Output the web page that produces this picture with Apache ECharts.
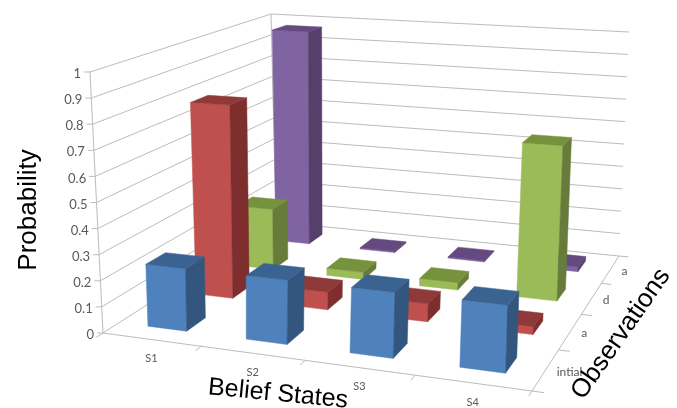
<!DOCTYPE html>
<html>
<head>
<meta charset="utf-8">
<style>html,body{margin:0;padding:0;background:#fff}#chart{width:677px;height:408px}</style>
<script src="https://cdn.jsdelivr.net/npm/echarts@6/dist/echarts.min.js"></script>
</head>
<body>
<div id="chart"></div>
<script>
// Belief-state probabilities per observation step
const beliefStates = ['S1', 'S2', 'S3', 'S4'];
const observations = ['intial', 'a', 'd', 'a'];
const probabilityTicks = [0, 0.1, 0.2, 0.3, 0.4, 0.5, 0.6, 0.7, 0.8, 0.9, 1];
const initialValues = [0.24, 0.24, 0.24, 0.24];
const firstAValues = [0.79, 0.07, 0.07, 0.03];
const dValues = [0.26, 0.03, 0.03, 0.63];
const secondAValues = [0.97, 0.005, 0.005, 0.02];

const BAR_WIDTH = 0.4, BAR_DEPTH = 0.39;
const SANS = '"Liberation Sans", Arial, sans-serif';
const SMALL = 'Lato, "Open Sans", sans-serif';

// Box corners on screen: floor and the plane at probability 1
const floorQuad = [[103, 333], [532, 391], [619, 256], [276, 222]];
const topQuad = [[90, 72], [541, 98], [629, 32], [271, 14]];

// Unit square to quadrilateral homography
function squareToQuad(q) {
  const [[x0, y0], [x1, y1], [x2, y2], [x3, y3]] = q;
  const dx1 = x1 - x2, dx2 = x3 - x2, sx = x0 - x1 + x2 - x3;
  const dy1 = y1 - y2, dy2 = y3 - y2, sy = y0 - y1 + y2 - y3;
  const den = dx1 * dy2 - dx2 * dy1;
  const g = (sx * dy2 - dx2 * sy) / den, h = (dx1 * sy - sx * dy1) / den;
  return [x1 - x0 + g * x1, x3 - x0 + h * x3, x0, y1 - y0 + g * y1, y3 - y0 + h * y3, y0, g, h];
}
const floorH = squareToQuad(floorQuad), topH = squareToQuad(topQuad);
function applyH(m, u, v) {
  const w = m[6] * u + m[7] * v + 1;
  return [(m[0] * u + m[1] * v + m[2]) / w, (m[3] * u + m[4] * v + m[5]) / w];
}

// state and prob go through the hidden value axes, depth is a row position
function makeProjector(params, api) {
  const cs = params.coordSys;
  return function (state, prob, depth) {
    const p = api.coord([state, prob]);
    const u = (p[0] - cs.x) / cs.width;
    const t = 1 - (p[1] - cs.y) / cs.height;
    const a = applyH(floorH, u, depth / observations.length);
    const b = applyH(topH, u, depth / observations.length);
    return [a[0] + (b[0] - a[0]) * t, a[1] + (b[1] - a[1]) * t];
  };
}

function line(a, b) {
  return { type: 'line', shape: { x1: a[0], y1: a[1], x2: b[0], y2: b[1] }, style: { stroke: '#bcbcbc', lineWidth: 1 }, silent: true };
}
function label(text, x, y, align, size, color, font, rotation) {
  return { type: 'text', x, y, rotation: rotation || 0, silent: true,
    style: { text, fill: color, font: size + 'px ' + font, align, verticalAlign: 'middle' } };
}

// One square column: front, right side, top
function renderBar(colors, depth) {
  return function (params, api) {
    const P = makeProjector(params, api);
    const xi = api.value(0), value = api.value(1);
    const pad = (1 - BAR_WIDTH) / 2, padZ = (1 - BAR_DEPTH) / 2;
    const x0 = xi + pad, x1 = xi + 1 - pad, z0 = depth + padZ, z1 = depth + 1 - padZ;
    const face = (pts, fill) => ({ type: 'polygon', shape: { points: pts }, style: { fill, stroke: fill, lineWidth: 0.5 }, silent: true });
    return { type: 'group', children: [
      face([P(x0, 0, z0), P(x1, 0, z0), P(x1, value, z0), P(x0, value, z0)], colors[0]),
      face([P(x1, 0, z0), P(x1, 0, z1), P(x1, value, z1), P(x1, value, z0)], colors[1]),
      face([P(x0, value, z0), P(x1, value, z0), P(x1, value, z1), P(x0, value, z1)], colors[2])
    ] };
  };
}

// Walls, floor edges, ticks and their labels
function renderFrame(params, api) {
  const P = makeProjector(params, api);
  const nS = beliefStates.length, nO = observations.length;
  const kids = [];
  probabilityTicks.forEach(t => {
    const a = P(0, t, 0), b = P(0, t, nO), c = P(nS, t, nO);
    kids.push(line(a, b), line(b, c), line(a, [a[0] - 6, a[1]]));
    kids.push(label(String(t), a[0] - 9, a[1] + 2, 'right', 13, '#595959', SMALL));
  });
  kids.push(line(P(0, 0, 0), P(0, 1, 0)), line(P(0, 0, nO), P(0, 1, nO)));
  kids.push(line(P(0, 0, 0), P(nS, 0, 0)), line(P(nS, 0, 0), P(nS, 0, nO)));
  for (let i = 0; i <= nS; i++) kids.push(line(P(i, 0, 0), P(i, 0, -0.12)));
  for (let i = 0; i <= nO; i++) kids.push(line(P(nS, 0, i), P(nS + 0.1, 0, i)));
  beliefStates.forEach((s, i) => {
    const p = P(i + 0.5, 0, 0);
    kids.push(label(s, p[0], p[1] + 19, 'center', 11, '#595959', SMALL));
  });
  observations.forEach((s, i) => {
    const p = P(nS, 0, i + 0.5);
    kids.push(label(s, p[0] + 11, p[1] + 2, 'left', 12, '#595959', SMALL));
  });
  return { type: 'group', children: kids };
}

const rows = [
  { name: observations[3], depth: 3, values: secondAValues, colors: ['#8064A2', '#54406B', '#644A80'] },
  { name: observations[2], depth: 2, values: dValues, colors: ['#9BBB59', '#677C3A', '#76923C'] },
  { name: observations[1], depth: 1, values: firstAValues, colors: ['#C0504D', '#7E2F2D', '#8F3A38'] },
  { name: observations[0], depth: 0, values: initialValues, colors: ['#4F81BD', '#33567F', '#3A6391'] }
];

const chart = echarts.init(document.getElementById('chart'), null, { renderer: 'canvas' });
chart.setOption({
  animation: false,
  backgroundColor: '#fff',
  grid: { left: 0, right: 0, top: 0, bottom: 0 },
  xAxis: { type: 'value', min: 0, max: beliefStates.length, show: false },
  yAxis: { type: 'value', min: 0, max: 1, show: false },
  graphic: [
    { type: 'text', x: 29, y: 210, rotation: Math.PI / 2, silent: true, z: 10,
      style: { text: 'Probability', fill: '#000', font: '26px ' + SANS, align: 'center', verticalAlign: 'middle' } },
    { type: 'text', x: 278, y: 394, rotation: -5.5 * Math.PI / 180, silent: true, z: 10,
      style: { text: 'Belief States', fill: '#000', font: '25px ' + SANS, align: 'center', verticalAlign: 'middle' } },
    { type: 'text', x: 621, y: 334, rotation: 55 * Math.PI / 180, silent: true, z: 10,
      style: { text: 'Observations', fill: '#000', font: '26px ' + SANS, align: 'center', verticalAlign: 'middle' } }
  ],
  series: [
    { type: 'custom', name: 'frame', renderItem: renderFrame, clip: false, silent: true, data: [[0, 0]], encode: { x: 0, y: 1 } }
  ].concat(rows.map(r => ({
    type: 'custom', name: r.name, clip: false, silent: true,
    renderItem: renderBar(r.colors, r.depth),
    encode: { x: 0, y: 1 },
    data: r.values.map((v, i) => [i, v])
  })))
});
</script>
</body>
</html>
